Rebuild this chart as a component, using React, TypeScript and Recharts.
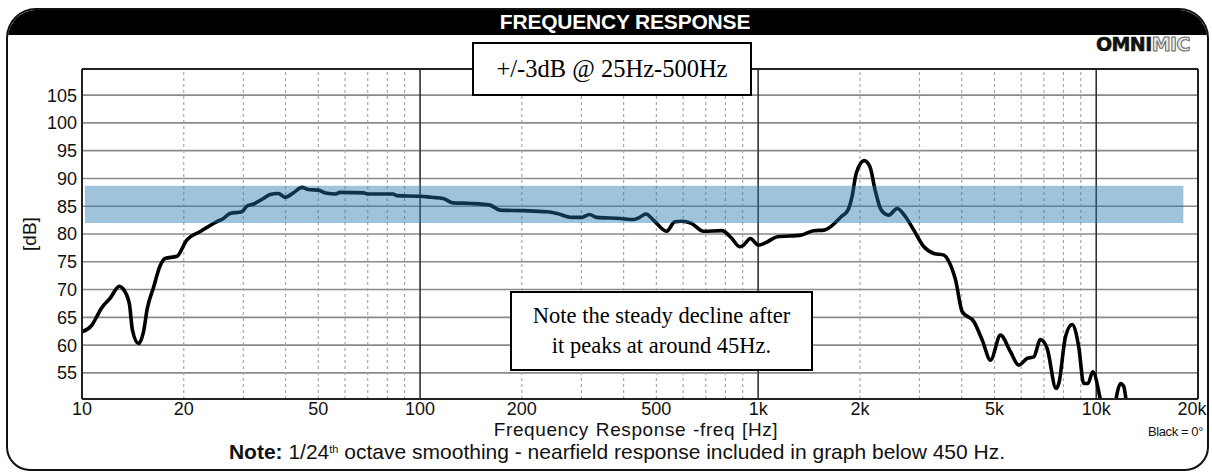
import React from 'react';
import { LineChart, Line, XAxis, YAxis, ReferenceLine, ReferenceArea } from 'recharts';

// Frequency response (Hz) and SPL (dB)
const freqHz = [
  10, 10.7, 11.05, 11.4, 12.1, 12.9, 13.2, 13.8, 14.1, 14.7, 15.2, 15.6, 16.3, 17.0, 17.6, 19.1,
  20.4, 22.3, 25.0, 26.2, 27.4, 29.7, 30.7, 32.2, 34.4, 36.0, 38.1, 39.9, 42.2, 44.7, 46.7, 50,
  52.5, 56.3, 58, 68, 69.8, 83.2, 85.3, 100, 108, 117, 125, 142, 161, 172, 202, 237, 254, 281,
  301, 317, 333, 391, 428, 443, 466, 490, 536, 567, 593, 635, 689, 781, 836, 881, 905, 948,
  1003, 1064, 1140, 1340, 1460, 1566, 1660, 1760, 1843, 1895, 1950, 2058, 2141, 2218, 2313,
  2434, 2578, 2728, 2887, 3092, 3310, 3544, 3668, 3837, 4015, 4348, 4601, 4868, 5210, 5577,
  5901, 6245, 6536, 6838, 7157, 7607, 7750, 8110, 8484, 8875, 9183, 9455, 9764, 10300, 10600,
  11200, 11500, 11800, 12050, 12300, 12600, 20000,
];
const splDb = [
  62.4, 63.6, 65.1, 66.6, 68.4, 70.6, 70.2, 67.5, 62.7, 60.3, 62.4, 66.6, 70.5, 74.2, 75.6, 76.0,
  78.9, 80.4, 82.2, 82.8, 83.7, 84.0, 85.0, 85.4, 86.4, 87.1, 87.3, 86.6, 87.4, 88.4, 88.0, 87.9,
  87.4, 87.2, 87.5, 87.4, 87.2, 87.2, 86.9, 86.8, 86.6, 86.4, 85.6, 85.5, 85.2, 84.3, 84.2, 84.0, 83.7, 83.0,
  83.0, 83.5, 83.0, 82.8, 82.6, 82.9, 83.6, 82.5, 80.5, 82.2, 82.3, 81.9, 80.5, 80.6, 79.2, 77.7, 78.0, 79.2,
  78.0, 78.6, 79.5, 79.8, 80.6, 80.7, 81.6, 83.1, 84.3, 86.7, 90.9, 93.2, 92.1, 87.9, 84.3,
  83.4, 84.6, 83.1, 80.7, 77.7, 76.5, 76.2, 75.0, 71.7, 66.0, 64.2, 60.9, 57.3, 61.8, 58.8,
  56.4, 57.6, 57.9, 61.0, 59.4, 52.2, 53.1, 61.5, 63.7, 59.7, 53.1, 53.1, 55.2, 50.0, 46,
  46, 51, 53.1, 52.6, 49.5, 45, 45,
];

const xTicks = [10, 20, 50, 100, 200, 500, 1000, 2000, 5000, 10000, 20000];
const yTicks = [55, 60, 65, 70, 75, 80, 85, 90, 95, 100, 105];
const minorFreqs = [
  20, 30, 40, 50, 60, 70, 80, 90,
  200, 300, 400, 500, 600, 700, 800, 900,
  2000, 3000, 4000, 5000, 6000, 7000, 8000, 9000,
];
const decadeFreqs = [100, 1000, 10000];
const xDomain = [10, 20000];
const yDomain = [50.3, 109.7];
const bandDb = [82.0, 88.7];
const bandHz = [10.2, 18100];

const data = freqHz.map((f, i) => ({ f, db: splDb[i] }));

const fmtHz = (v: number) => (v >= 1000 ? `${v / 1000}k` : `${v}`);
const SANS = '"Liberation Sans", Arial, sans-serif';
const SERIF = '"Liberation Serif", "Times New Roman", serif';

const XTick = (props: any) => {
  const { x, y, payload } = props;
  const dx = payload.value === 20000 ? -6 : 0;
  return (
    <text x={x + dx} y={y + 16} textAnchor="middle" fontFamily={SANS} fontSize={18} fill="#111">
      {fmtHz(payload.value)}
    </text>
  );
};

const YTick = (props: any) => {
  const { x, y, payload } = props;
  return (
    <text x={x} y={y} dy="0.36em" textAnchor="end" fontFamily={SANS} fontSize={18} fill="#111">
      {payload.value}
    </text>
  );
};

export default function App() {
  return (
    <div style={{ position: 'absolute', left: 0, top: 0, width: 1212, height: 473, background: '#fff', overflow: 'hidden' }}>
      {/* outer frame */}
      <div
        style={{
          position: 'absolute', left: 6, top: 8, width: 1203, height: 463, boxSizing: 'border-box',
          border: '2.5px solid #111', borderRadius: '30px 30px 24px 24px', overflow: 'hidden',
        }}
      >
        <div style={{ position: 'absolute', left: 0, top: 0, width: '100%', height: 25, background: '#000' }} />
      </div>
      <div
        style={{
          position: 'absolute', left: 425, top: 9, width: 400, height: 25, lineHeight: '25px', textAlign: 'center',
          color: '#fff', fontFamily: SANS, fontWeight: 700, fontSize: 21, letterSpacing: -0.2,
        }}
      >
        FREQUENCY RESPONSE
      </div>
      {/* logo */}
      <div
        style={{
          position: 'absolute', left: 1096, top: 33, fontFamily: '"DejaVu Sans", sans-serif', fontWeight: 700,
          fontSize: 19, letterSpacing: -0.6,
        }}
      >
        <span style={{ color: '#111', WebkitTextStroke: '0.6px #111' } as any}>OMNI</span>
        <span style={{ color: '#e8e8e8', WebkitTextStroke: '1px #6a6a6a' } as any}>MIC</span>
      </div>

      <div style={{ position: 'absolute', left: 0, top: 0 }}>
        <LineChart width={1212} height={473} data={data} margin={{ top: 69, right: 14, bottom: 0, left: 0 }}>
          <XAxis
            dataKey="f" type="number" scale="log" domain={xDomain} ticks={xTicks} interval={0}
            allowDataOverflow height={74} tickLine={false} tickSize={0} tickMargin={0}
            axisLine={{ stroke: '#222', strokeWidth: 2 }} tick={<XTick />}
          />
          <YAxis
            type="number" domain={yDomain} ticks={yTicks} interval={0} allowDataOverflow width={82}
            tickLine={false} tickSize={0} tickMargin={5} axisLine={{ stroke: '#222', strokeWidth: 2 }}
            tick={<YTick />}
          />
          {yTicks.map((v) => (
            <ReferenceLine key={`h${v}`} y={v} stroke="#8a8a8a" strokeWidth={1.6} zIndex={-60} />
          ))}
          {minorFreqs.map((v) => (
            <ReferenceLine key={`m${v}`} x={v} stroke="#a8a8a8" strokeWidth={1.2} strokeDasharray="3 3" zIndex={-60} />
          ))}
          {decadeFreqs.map((v) => (
            <ReferenceLine key={`d${v}`} x={v} stroke="#333" strokeWidth={1.6} zIndex={-50} />
          ))}
          <Line
            dataKey="db" type="monotoneX" stroke="#000" strokeWidth={3.6} dot={false}
            isAnimationActive={false} strokeLinejoin="round"
          />
          <ReferenceArea
            x1={bandHz[0]} x2={bandHz[1]} y1={bandDb[0]} y2={bandDb[1]}
            fill="#2373ad" fillOpacity={0.43} stroke="none" zIndex={450}
          />
          <ReferenceLine y={yDomain[1]} stroke="#222" strokeWidth={2} zIndex={460} />
          <ReferenceLine x={xDomain[1]} stroke="#222" strokeWidth={2} zIndex={460} />
        </LineChart>
      </div>

      {/* y axis title */}
      <div
        style={{
          position: 'absolute', left: 30, top: 234, transform: 'translate(-50%, -50%) rotate(-90deg)',
          fontFamily: SANS, fontSize: 19, color: '#111', whiteSpace: 'nowrap',
        }}
      >
        [dB]
      </div>
      {/* x axis title */}
      <div
        style={{
          position: 'absolute', left: 336, top: 420, width: 600, textAlign: 'center', fontFamily: SANS,
          fontSize: 19, color: '#111', lineHeight: '19px', letterSpacing: 0.6, wordSpacing: 1,
        }}
      >
        Frequency Response -freq [Hz]
      </div>
      <div
        style={{
          position: 'absolute', left: 1090, top: 424, width: 113, textAlign: 'right', fontFamily: SANS,
          fontSize: 13, color: '#111', letterSpacing: -0.4,
        }}
      >
        Black = 0°
      </div>
      <div
        style={{
          position: 'absolute', left: 17, top: 441, width: 1200, textAlign: 'center', fontFamily: SANS,
          fontSize: 21, color: '#111', lineHeight: '22px', whiteSpace: 'nowrap',
        }}
      >
        <b>Note:</b> 1/24<sup style={{ fontSize: 11, verticalAlign: 'top', lineHeight: '16px' }}>th</sup> octave smoothing -
        nearfield response included in graph below 450 Hz.
      </div>

      {/* annotation boxes */}
      <div
        style={{
          position: 'absolute', left: 472, top: 42, width: 280, height: 54, boxSizing: 'border-box',
          border: '2.5px solid #000', background: '#fff', display: 'flex', alignItems: 'center',
          justifyContent: 'center', fontFamily: SERIF, fontSize: 24.5, color: '#000',
        }}
      >
        +/-3dB @ 25Hz-500Hz
      </div>
      <div
        style={{
          position: 'absolute', left: 510, top: 291, width: 303, height: 80, boxSizing: 'border-box',
          border: '2.5px solid #000', background: '#fff', display: 'flex', flexDirection: 'column',
          alignItems: 'center', justifyContent: 'center', fontFamily: SERIF, fontSize: 22.5, color: '#000',
          lineHeight: '30px', textAlign: 'center',
        }}
      >
        <div>Note the steady decline after</div>
        <div>it peaks at around 45Hz.</div>
      </div>
    </div>
  );
}
